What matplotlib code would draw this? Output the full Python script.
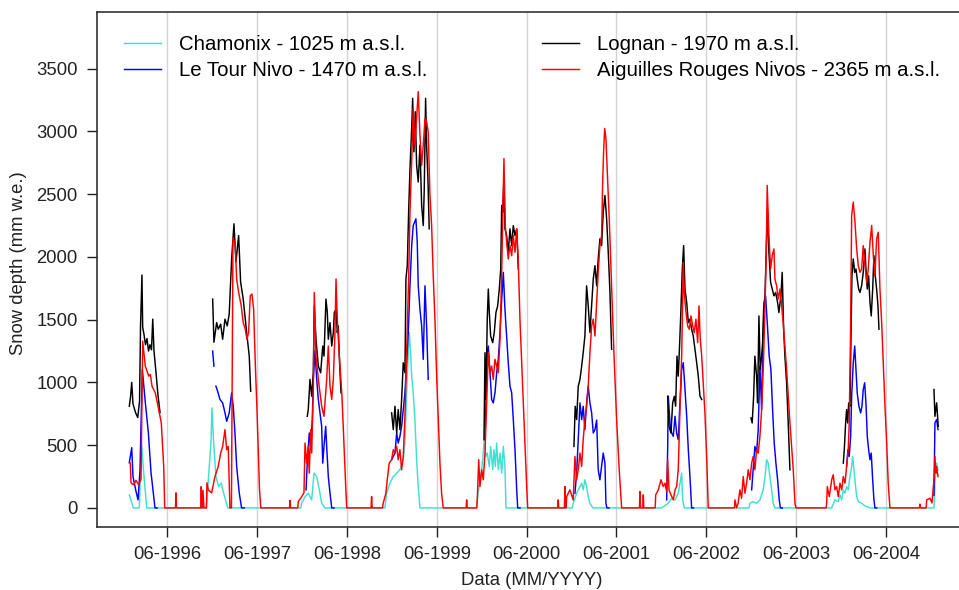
import numpy as np
import matplotlib.pyplot as plt

plt.rcParams['font.family'] = ['Liberation Sans', 'DejaVu Sans']

# snow depth series: (decimal year, mm w.e.), None = no data
chamonix = [
    (1995.991, 104), (1996.036, 0), (1996.102, 0), (1996.129, 504), (1996.149, 300), (1996.185, 0),
    (1996.844, 0), (1996.855, 64), (1996.878, 300), (1996.900, 517), (1996.911, 797), (1996.930, 517),
    (1996.955, 250), (1996.985, 170), (1997.014, 197), (1997.041, 117), (1997.078, 24), (1997.089, 0),
    (1997.900, 0), (1997.910, 37), (1997.947, 90), (1997.983, 117), (1998.021, 64), (1998.047, 277),
    (1998.077, 250), (1998.106, 144), (1998.132, 37), (1998.169, 0),
    (1998.836, 0), (1998.855, 117), (1998.892, 197), (1998.929, 250), (1998.967, 277), (1999.003, 304),
    (1999.040, 384), (1999.059, 517), (1999.078, 917), (1999.096, 1237), (1999.107, 1397), (1999.122, 1237),
    (1999.134, 1050), (1999.151, 917), (1999.170, 704), (1999.189, 384), (1999.207, 170), (1999.226, 0),
    (1999.855, 0), (1999.864, 64), (1999.894, 224), (1999.913, 304), (1999.931, 437), (1999.942, 544),
    (1999.961, 410), (1999.975, 437), (1999.998, 330), (2000.013, 490), (2000.036, 304), (2000.050, 464),
    (2000.065, 330), (2000.080, 517), (2000.098, 304), (2000.117, 437), (2000.136, 277), (2000.154, 490),
    (2000.172, 330), (2000.184, 0),
    (2000.920, 0), (2000.932, 37), (2000.970, 117), (2001.007, 170), (2001.026, 197), (2001.043, 144),
    (2001.062, 224), (2001.081, 170), (2001.099, 90), (2001.118, 37), (2001.151, 0),
    (2001.916, 0), (2001.990, 37), (2002.028, 77), (2002.065, 64), (2002.101, 117), (2002.120, 197),
    (2002.139, 277), (2002.150, 64), (2002.168, 0),
    (2002.887, 0), (2002.899, 37), (2002.935, 50), (2002.973, 37), (2003.010, 64), (2003.047, 144),
    (2003.066, 250), (2003.085, 384), (2003.102, 357), (2003.121, 250), (2003.140, 144), (2003.158, 37),
    (2003.177, 0),
    (2003.809, 0), (2003.845, 64), (2003.882, 50), (2003.901, 104), (2003.920, 64), (2003.938, 144),
    (2003.957, 117), (2003.975, 170), (2003.993, 144), (2004.012, 250), (2004.031, 330), (2004.042, 410),
    (2004.057, 304), (2004.071, 197), (2004.087, 90), (2004.105, 50), (2004.142, 37), (2004.179, 16),
    (2004.235, 0),
    (2004.947, 0), (2004.958, 197), (2004.977, 357), (2004.992, 300),
]

le_tour = [
    (1995.991, 360), (1996.018, 480), (1996.032, 250), (1996.066, 130), (1996.088, 64), (1996.110, 300),
    (1996.136, 1104), (1996.166, 864), (1996.203, 600), (1996.233, 280), (1996.266, 64), (1996.277, 0),
    (1996.300, 0), (1996.301, None),
    (1996.919, 1250), (1996.933, 1130), (1996.944, None), (1996.955, 970), (1996.974, 930), (1997.000, 864),
    (1997.030, 837), (1997.056, 757), (1997.075, 690), (1997.103, 757), (1997.130, 917), (1997.148, 810),
    (1997.167, 597), (1997.186, 330), (1997.215, 117), (1997.241, 0), (1997.270, 0), (1997.271, None),
    (1997.958, 144), (1997.972, 357), (1997.994, 597), (1998.010, 490), (1998.028, 704), (1998.039, 1024),
    (1998.058, 1250), (1998.077, 1024), (1998.095, 864), (1998.113, 757), (1998.132, 650), (1998.144, 357),
    (1998.158, 490), (1998.177, 650), (1998.188, 490), (1998.206, 250), (1998.225, 117), (1998.244, 0),
    (1998.270, 0), (1998.271, None),
    (1998.911, 384), (1998.948, 437), (1998.967, 597), (1998.984, 517), (1999.003, 570), (1999.022, 650),
    (1999.059, 917), (1999.096, 1397), (1999.115, 1770), (1999.134, 2090), (1999.151, 2250), (1999.181, 2304),
    (1999.196, 2117), (1999.207, 1770), (1999.226, 1584), (1999.245, 1450), (1999.263, 1184), (1999.282, 1770),
    (1999.300, 1450), (1999.318, 1024), (1999.319, None),
    (1999.950, 544), (1999.961, 837), (1999.975, 1237), (1999.987, 1290), (2000.006, 1077), (2000.024, 864),
    (2000.042, 837), (2000.061, 917), (2000.080, 1077), (2000.098, 1184), (2000.117, 1397), (2000.136, 1664),
    (2000.154, 1877), (2000.172, 1584), (2000.191, 1370), (2000.209, 1157), (2000.228, 970), (2000.247, 917),
    (2000.265, 704), (2000.284, 464), (2000.303, 144), (2000.314, 0), (2000.340, 0), (2000.341, None),
    (2000.951, 117), (2000.970, 277), (2000.988, 544), (2001.007, 837), (2001.026, 704), (2001.043, 810),
    (2001.062, 624), (2001.081, 837), (2001.099, 970), (2001.118, 837), (2001.137, 757), (2001.155, 597),
    (2001.174, 624), (2001.193, 700), (2001.210, 304), (2001.229, 224), (2001.248, 330), (2001.266, 437),
    (2001.285, 357), (2001.296, 37), (2001.307, 0), (2001.330, 0), (2001.331, None),
    (2001.972, 64), (2001.983, 464), (2001.990, 890), (2002.009, 677), (2002.028, 597), (2002.046, 570),
    (2002.065, 730), (2002.083, 597), (2002.101, 544), (2002.120, 837), (2002.139, 1104), (2002.157, 1157),
    (2002.176, 944), (2002.195, 730), (2002.213, 464), (2002.231, 250), (2002.250, 0), (2002.270, 0),
    (2002.271, None),
    (2002.918, 144), (2002.935, 304), (2002.954, 490), (2002.973, 437), (2002.991, 624), (2003.010, 1130),
    (2003.029, 784), (2003.043, 1317), (2003.058, 1637), (2003.073, 1690), (2003.096, 1424), (2003.113, 1210),
    (2003.132, 1104), (2003.151, 784), (2003.169, 517), (2003.188, 357), (2003.207, 224), (2003.225, 64),
    (2003.238, 0), (2003.260, 0), (2003.261, None),
    (2003.975, 330), (2003.990, 464), (2004.004, 410), (2004.020, 570), (2004.031, 890), (2004.049, 1157),
    (2004.065, 1290), (2004.079, 1104), (2004.093, 917), (2004.112, 810), (2004.131, 757), (2004.146, 810),
    (2004.160, 944), (2004.176, 997), (2004.190, 837), (2004.205, 570), (2004.220, 464), (2004.235, 384),
    (2004.249, 437), (2004.265, 224), (2004.279, 64), (2004.290, 0), (2004.310, 0), (2004.311, None),
    (2004.947, 100), (2004.958, 677), (2004.977, 704), (2004.992, 624),
]

lognan = [
    (1995.991, 810), (1996.004, 880), (1996.018, 1000), (1996.032, 830), (1996.060, 760), (1996.085, 720),
    (1996.105, 850), (1996.116, 1450), (1996.132, 1856), (1996.140, 1440), (1996.155, 1380), (1996.171, 1300),
    (1996.188, 1350), (1996.205, 1250), (1996.221, 1300), (1996.238, 1260), (1996.252, 1504), (1996.266, 1250),
    (1996.288, 1080), (1996.310, 900), (1996.333, 760), (1996.334, None),
    (1996.919, 1664), (1996.933, 1320), (1996.963, 1477), (1996.981, 1424), (1997.008, 1464), (1997.030, 1344),
    (1997.056, 1504), (1997.081, 1450), (1997.103, 1544), (1997.130, 1984), (1997.156, 2264), (1997.178, 1960),
    (1997.208, 2170), (1997.230, 1800), (1997.259, 1664), (1997.297, 1400), (1997.326, 1210), (1997.342, 930),
    (1997.343, None),
    (1997.972, 730), (1997.983, 784), (1998.002, 1024), (1998.021, 890), (1998.039, 1077), (1998.050, 1610),
    (1998.069, 1344), (1998.095, 1130), (1998.121, 1077), (1998.144, 1290), (1998.158, 1210), (1998.180, 1664),
    (1998.195, 1557), (1998.206, 1344), (1998.225, 1477), (1998.244, 1290), (1998.262, 1397), (1998.273, 1557),
    (1998.292, 1584), (1998.306, 1397), (1998.317, 1450), (1998.328, 1210), (1998.347, 917), (1998.348, None),
    (1998.911, 757), (1998.929, 624), (1998.948, 810), (1998.967, 597), (1998.984, 784), (1999.003, 624),
    (1999.022, 864), (1999.040, 1157), (1999.059, 1077), (1999.070, 1824), (1999.085, 1930), (1999.100, 2357),
    (1999.115, 2704), (1999.134, 3024), (1999.145, 3264), (1999.159, 2837), (1999.174, 3157), (1999.189, 2730),
    (1999.207, 2597), (1999.226, 2890), (1999.245, 2410), (1999.263, 2250), (1999.274, 2544), (1999.289, 3264),
    (1999.300, 2890), (1999.315, 2624), (1999.329, 2224), (1999.330, None),
    (1999.939, 544), (1999.950, 1237), (1999.961, 864), (1999.975, 1504), (1999.987, 1744), (1999.998, 1557),
    (2000.013, 1370), (2000.036, 1317), (2000.053, 1397), (2000.072, 1557), (2000.091, 1610), (2000.109, 1744),
    (2000.125, 1904), (2000.136, 2410), (2000.147, 2357), (2000.161, 2624), (2000.172, 2224), (2000.191, 2170),
    (2000.209, 2037), (2000.228, 2224), (2000.247, 2090), (2000.265, 2250), (2000.284, 2170), (2000.303, 2224),
    (2000.321, 1904), (2000.322, None),
    (2000.940, 490), (2000.954, 810), (2000.970, 704), (2000.988, 970), (2001.007, 1024), (2001.026, 1130),
    (2001.043, 1237), (2001.062, 1370), (2001.081, 1770), (2001.099, 1610), (2001.118, 1397), (2001.137, 1610),
    (2001.155, 1824), (2001.174, 1930), (2001.193, 1770), (2001.210, 1984), (2001.229, 2144), (2001.248, 2090),
    (2001.266, 2357), (2001.285, 2490), (2001.304, 2304), (2001.322, 2037), (2001.341, 1717), (2001.359, 1264),
    (2001.360, None),
    (2001.983, 890), (2001.998, 650), (2002.020, 597), (2002.039, 837), (2002.057, 890), (2002.072, 810),
    (2002.087, 1210), (2002.101, 1050), (2002.117, 1317), (2002.131, 1584), (2002.146, 1904), (2002.161, 2090),
    (2002.176, 1744), (2002.195, 1637), (2002.213, 1477), (2002.231, 1504), (2002.250, 1424), (2002.268, 1370),
    (2002.287, 1264), (2002.306, 1157), (2002.324, 1050), (2002.343, 890), (2002.362, 864), (2002.363, None),
    (2002.910, 717), (2002.924, 677), (2002.940, 890), (2002.954, 1210), (2002.973, 1050), (2002.984, 837),
    (2002.999, 1530), (2003.013, 1104), (2003.029, 1210), (2003.040, 1317), (2003.051, 1584), (2003.066, 1690),
    (2003.085, 2170), (2003.096, 2357), (2003.110, 2037), (2003.129, 1797), (2003.147, 1744), (2003.166, 1690),
    (2003.185, 1717), (2003.207, 1637), (2003.221, 1557), (2003.244, 1690), (2003.258, 1877), (2003.274, 1424),
    (2003.288, 1210), (2003.307, 997), (2003.325, 677), (2003.344, 304), (2003.345, None),
    (2003.938, 357), (2003.949, 464), (2003.964, 677), (2003.975, 784), (2003.987, 677), (2003.998, 837),
    (2004.012, 810), (2004.023, 1344), (2004.034, 1850), (2004.049, 1984), (2004.065, 1877), (2004.079, 1904),
    (2004.093, 1824), (2004.109, 1744), (2004.124, 1717), (2004.142, 1770), (2004.160, 1877), (2004.179, 2064),
    (2004.190, 1904), (2004.205, 1744), (2004.220, 1850), (2004.235, 1637), (2004.249, 1530), (2004.265, 1744),
    (2004.279, 2010), (2004.294, 1850), (2004.309, 1744), (2004.324, 1610), (2004.335, 1424), (2004.336, None),
    (2004.947, 944), (2004.958, 730), (2004.977, 837), (2004.995, 650),
]

aiguilles = [
    (1996.002, 357), (1996.010, 200), (1996.040, 184), (1996.066, 220), (1996.096, 184), (1996.121, 230),
    (1996.140, 1330), (1996.169, 1130), (1996.207, 1050), (1996.225, 1064), (1996.244, 970), (1996.280, 917),
    (1996.318, 784), (1996.347, 677), (1996.374, 330), (1996.385, 0),
    (1996.505, 0), (1996.511, 120), (1996.517, 0), (1996.786, 0), (1996.792, 170), (1996.798, 0),
    (1996.805, 0), (1996.811, 140), (1996.822, 0), (1996.850, 0),
    (1996.855, 200), (1996.870, 144), (1996.908, 120), (1996.944, 250), (1996.981, 330), (1997.008, 437),
    (1997.030, 490), (1997.056, 624), (1997.075, 464), (1997.092, 490), (1997.111, 0), (1997.128, 0),
    (1997.145, 2150), (1997.170, 2100), (1997.186, 1824), (1997.208, 1717), (1997.237, 1610), (1997.259, 1477),
    (1997.282, 1424), (1997.300, 1344), (1997.319, 1397), (1997.337, 1690), (1997.356, 1704), (1997.375, 1584),
    (1997.393, 1157), (1997.412, 784), (1997.440, 150), (1997.455, 0),
    (1997.774, 0), (1997.780, 60), (1997.786, 0), (1997.866, 0),
    (1997.872, 50), (1997.910, 90), (1997.935, 120), (1997.947, 517), (1997.965, 357), (1997.983, 490),
    (1997.994, 277), (1998.010, 624), (1998.021, 437), (1998.039, 944), (1998.050, 1717), (1998.069, 1210),
    (1998.095, 1024), (1998.132, 810), (1998.158, 730), (1998.188, 1024), (1998.206, 1290), (1998.225, 970),
    (1998.244, 864), (1998.262, 1024), (1998.280, 1397), (1998.292, 1824), (1998.306, 1504), (1998.322, 1290),
    (1998.336, 1130), (1998.358, 890), (1998.381, 490), (1998.403, 117), (1998.411, 0),
    (1998.682, 0), (1998.688, 90), (1998.694, 0), (1998.810, 0),
    (1998.817, 37), (1998.847, 117), (1998.862, 224), (1998.884, 357), (1998.911, 384), (1998.929, 464),
    (1998.948, 437), (1998.967, 490), (1998.984, 384), (1999.003, 464), (1999.022, 304), (1999.040, 410),
    (1999.059, 730), (1999.070, 1024), (1999.085, 1424), (1999.100, 1824), (1999.115, 2357), (1999.134, 2757),
    (1999.151, 3184), (1999.170, 2890), (1999.189, 3104), (1999.207, 3317), (1999.226, 2970), (1999.245, 2730),
    (1999.263, 2890), (1999.282, 3104), (1999.300, 3077), (1999.318, 2997), (1999.337, 2500), (1999.356, 2250),
    (1999.374, 1850), (1999.393, 1500), (1999.412, 1050), (1999.430, 700), (1999.449, 350), (1999.467, 117),
    (1999.485, 0),
    (1999.740, 0), (1999.746, 64), (1999.752, 0), (1999.858, 0),
    (1999.864, 64), (1999.880, 384), (1999.894, 170), (1999.913, 304), (1999.931, 224), (1999.950, 437),
    (1999.969, 837), (1999.987, 1237), (2000.006, 1077), (2000.024, 1130), (2000.042, 1024), (2000.061, 1184),
    (2000.080, 1130), (2000.098, 1077), (2000.117, 1344), (2000.136, 1877), (2000.147, 2304), (2000.161, 2784),
    (2000.176, 2250), (2000.191, 2117), (2000.209, 1984), (2000.228, 2090), (2000.247, 2010), (2000.265, 2170),
    (2000.284, 2037), (2000.303, 2224), (2000.321, 1957), (2000.339, 1504), (2000.376, 837), (2000.414, 170),
    (2000.425, 0),
    (2000.759, 0), (2000.765, 64), (2000.771, 0), (2000.834, 0), (2000.840, 170), (2000.846, 0), (2000.853, 0),
    (2000.859, 90), (2000.895, 144), (2000.932, 64), (2000.951, 410), (2000.970, 224), (2000.988, 304),
    (2001.007, 437), (2001.026, 330), (2001.043, 544), (2001.062, 704), (2001.081, 810), (2001.099, 970),
    (2001.118, 1237), (2001.137, 1450), (2001.155, 1504), (2001.174, 1370), (2001.193, 1637), (2001.210, 1877),
    (2001.229, 2090), (2001.248, 2170), (2001.259, 2570), (2001.270, 2837), (2001.282, 3024), (2001.296, 2944),
    (2001.310, 2704), (2001.333, 2304), (2001.359, 1770), (2001.385, 1237), (2001.415, 704), (2001.444, 304),
    (2001.471, 0),
    (2001.669, 0), (2001.675, 130), (2001.681, 0), (2001.706, 0), (2001.712, 104), (2001.718, 0), (2001.844, 0),
    (2001.850, 104), (2001.879, 144), (2001.909, 224), (2001.934, 170), (2001.953, 197), (2001.972, 130),
    (2001.983, 384), (2001.998, 144), (2002.020, 104), (2002.046, 64), (2002.065, 144), (2002.083, 170),
    (2002.101, 304), (2002.120, 784), (2002.139, 1210), (2002.157, 1957), (2002.168, 1717), (2002.187, 1557),
    (2002.206, 1450), (2002.224, 1424), (2002.243, 1530), (2002.262, 1450), (2002.279, 1397), (2002.298, 1504),
    (2002.317, 1317), (2002.332, 1610), (2002.346, 1344), (2002.362, 1210), (2002.379, 997), (2002.398, 757),
    (2002.417, 410), (2002.435, 0),
    (2002.726, 0), (2002.732, 64), (2002.750, 0), (2002.768, 37), (2002.787, 144), (2002.806, 77),
    (2002.824, 250), (2002.843, 117), (2002.862, 197), (2002.880, 304), (2002.899, 224), (2002.918, 357),
    (2002.935, 410), (2002.954, 304), (2002.973, 464), (2002.991, 437), (2003.010, 570), (2003.029, 784),
    (2003.047, 1104), (2003.066, 1584), (2003.080, 2010), (2003.091, 2570), (2003.110, 2170), (2003.129, 1904),
    (2003.147, 2010), (2003.166, 2064), (2003.177, 1824), (2003.196, 1770), (2003.214, 1664), (2003.233, 1744),
    (2003.252, 1610), (2003.269, 1477), (2003.288, 1290), (2003.307, 1104), (2003.325, 890), (2003.344, 677),
    (2003.363, 490), (2003.381, 304), (2003.400, 37), (2003.411, 0),
    (2003.747, 0), (2003.753, 37), (2003.760, 170), (2003.782, 90), (2003.809, 224), (2003.826, 264),
    (2003.845, 144), (2003.864, 170), (2003.882, 90), (2003.901, 197), (2003.920, 144), (2003.938, 250),
    (2003.957, 197), (2003.975, 330), (2003.993, 464), (2004.004, 677), (2004.020, 1477), (2004.031, 2330),
    (2004.049, 2437), (2004.068, 2277), (2004.087, 2064), (2004.105, 1930), (2004.124, 1877), (2004.142, 1904),
    (2004.160, 2090), (2004.179, 1941), (2004.198, 1797), (2004.216, 1904), (2004.235, 2117), (2004.254, 2250),
    (2004.272, 2010), (2004.290, 1850), (2004.309, 2144), (2004.327, 2197), (2004.346, 1744), (2004.365, 1477),
    (2004.383, 1157), (2004.402, 810), (2004.421, 517), (2004.438, 197), (2004.457, 0),
    (2004.785, 0), (2004.791, 30), (2004.797, 0), (2004.860, 0), (2004.866, 64), (2004.903, 77),
    (2004.925, 40), (2004.950, 250), (2004.958, 410), (2004.969, 277), (2004.977, 330), (2004.992, 250),
]

stations = [
    (chamonix, "#40E0D0", "Chamonix - 1025 m a.s.l."),
    (le_tour, "#0000FF", "Le Tour Nivo - 1470 m a.s.l."),
    (lognan, "black", "Lognan - 1970 m a.s.l."),
    (aiguilles, "#FF0000", "Aiguilles Rouges Nivos - 2365 m a.s.l."),
]

years = list(range(1996, 2005))
tick_pos = [y + 151 / 365 for y in years]  # 1st of June
tick_labels = ["06-%d" % y for y in years]

fig = plt.figure(figsize=(9.59, 5.90), dpi=100)
ax = fig.add_axes([0.1011, 0.1068, 0.9110, 0.8729])

for x in tick_pos:
    ax.axvline(x, color="#d3d3d3", lw=1.0, zorder=0)

for i, (data, col, lab) in enumerate(stations):
    t = np.array([p[0] for p in data])
    v = np.array([np.nan if p[1] is None else p[1] for p in data], dtype=float)
    ax.plot(t, v, color=col, lw=1.05, label=lab, zorder=2 + i)

ax.set_xlim(1995.631, 2005.355)
ax.set_ylim(-152, 3952)
ax.set_xticks(tick_pos, tick_labels)
ax.set_yticks(range(0, 3501, 500))
ax.tick_params(direction="out", length=7, width=1, labelsize=13.3, pad=7, colors="#222222")

for s in ["left", "bottom", "top"]:
    ax.spines[s].set_linewidth(1.2)
    ax.spines[s].set_color("#333333")
ax.spines["right"].set_visible(False)

ax.set_ylabel("Snow depth (mm w.e.)", fontsize=13.3, color="#222222")
ax.yaxis.set_label_coords(-0.080, 0.513)
ax.set_xlabel("Data (MM/YYYY)", fontsize=13.3, color="#222222")
ax.xaxis.set_label_coords(0.498, -0.087)

ax.legend(loc="upper left", bbox_to_anchor=(124 / 959, 1 - 35 / 590), bbox_transform=fig.transFigure,
          ncol=2, frameon=False, fontsize=14.7, handlelength=1.8, handletextpad=0.9,
          columnspacing=5.6, labelspacing=0.35, borderpad=0, borderaxespad=0)

plt.savefig("out.png", dpi=100)
